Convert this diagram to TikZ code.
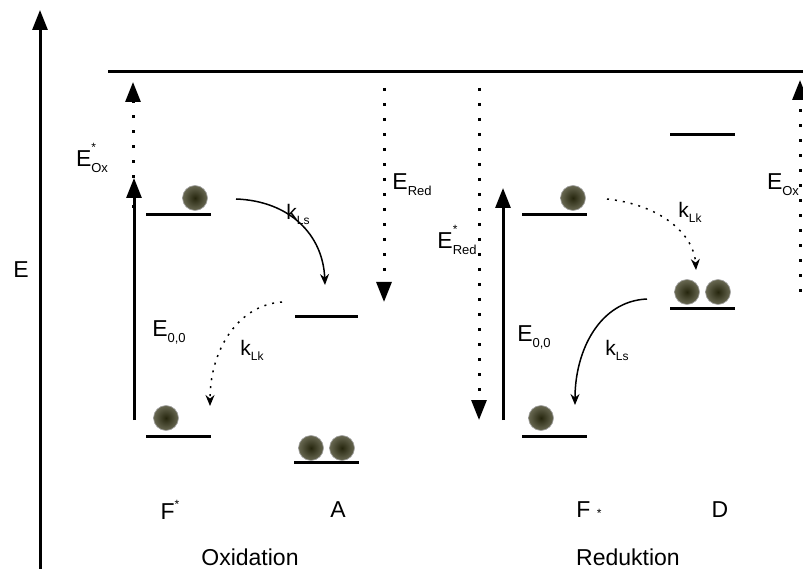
\documentclass[tikz,border=0pt]{standalone}
\usepackage{fontspec}
\setmainfont{Liberation Sans}
\usetikzlibrary{arrows.meta}

\definecolor{ballin}{RGB}{38,38,14}
\definecolor{ballout}{RGB}{104,104,82}

% label helpers: E with sub- and superscript
\newcommand{\Elbl}[2]{E\makebox[0pt][l]{\raisebox{1.2ex}{\fontsize{12}{12}\selectfont #1}}\raisebox{-0.5ex}{\fontsize{13}{13}\selectfont #2}}
\newcommand{\klbl}[1]{k\raisebox{-0.45ex}{\fontsize{12}{12}\selectfont #1}}

\tikzset{
  level/.style={line width=3pt},
  bigtip/.style={-{Triangle[length=20pt,width=15pt]}},
  solidarr/.style={bigtip, line width=3pt},
  dotarr/.style={bigtip, line width=3pt, dash pattern=on 3pt off 12pt},
  transfer/.style={line width=1.5pt, -{Stealth[length=11pt,width=9pt]}},
  dottransfer/.style={transfer, dash pattern=on 2pt off 6pt},
  txt/.style={font=\fontsize{23}{25}\selectfont, inner sep=0pt},
  ktxt/.style={font=\fontsize{21}{23}\selectfont, inner sep=0pt},
  ball/.style={inner color=ballin, outer color=ballout, draw=gray!70, line width=0.6pt}
}

\begin{document}
\begin{tikzpicture}[x=1pt,y=-1pt]
  \useasboundingbox (0,0) rectangle (803,569);

  % energy axis and common top level
  \coordinate (axisB) at (40,569);
  \coordinate (axisT) at (40,10);
  \draw [solidarr] (axisB) -- (axisT);
  \node[txt] (Elab) at (21,270) {E};
  \coordinate (topL) at (108,72);
  \coordinate (topR) at (803,72);
  \draw [level] (topL) -- (topR);

  % Oxidation: levels of F* and A
  \draw [level] (146,215) -- (211,215);
  \draw [level] (146,436) -- (211,436);
  \draw [level] (295,316) -- (358,316);
  \draw [level] (294,462) -- (359,462);

  % Reduktion: levels of F* and D
  \draw [level] (522,215) -- (587,215);
  \draw [level] (522,436) -- (587,436);
  \draw [level] (670,135) -- (735,135);
  \draw [level] (670,309) -- (735,309);

  % electrons
  \foreach \x/\y in {195/198, 166/418, 311/448, 342/448, 573/198, 541/418, 687/292, 718/292} {
    \shade [ball] (\x,\y) circle (12.5);
  }

  % Oxidation arrows
  \coordinate (eooB) at (134,420);
  \coordinate (eooT) at (134,178);
  \draw [solidarr] (eooB) -- (eooT);
  \node[txt] (eooLab) at (169,332) {\Elbl{}{0,0}};

  \coordinate (eoxsB) at (133,208);
  \coordinate (eoxsT) at (133,82);
  \draw [dotarr] (eoxsB) -- (eoxsT);
  \node[txt] (eoxsLab) at (92,158) {\Elbl{*}{Ox}};

  \coordinate (eredT) at (384,88);
  \coordinate (eredB) at (384,302);
  \draw [dotarr] (eredT) -- (eredB);
  \node[txt] (eredLab) at (412,185) {\Elbl{}{Red}};

  \coordinate (klsA) at (236,199);
  \coordinate (klsB) at (325,285);
  \draw [transfer] (klsA) .. controls (290,201) and (323,235) .. (klsB);
  \node[ktxt] (klsLab) at (298,214) {\klbl{Ls}};

  \coordinate (klkA) at (282,302);
  \coordinate (klkB) at (210,406);
  \draw [dottransfer] (klkA) .. controls (238,305) and (210,350) .. (klkB);
  \node[ktxt] (klkLab) at (252,350) {\klbl{Lk}};

  % Reduktion arrows
  \coordinate (eredsT) at (479,88);
  \coordinate (eredsB) at (479,420);
  \draw [dotarr] (eredsT) -- (eredsB);
  \node[txt] (eredsLab) at (457,240) {\Elbl{*}{Red}};

  \coordinate (erooB) at (503,420);
  \coordinate (erooT) at (503,188);
  \draw [solidarr] (erooB) -- (erooT);
  \node[txt] (erooLab) at (534,337) {\Elbl{}{0,0}};

  \coordinate (eoxB) at (800,292);
  \coordinate (eoxT) at (800,80);
  \draw [dotarr] (eoxB) -- (eoxT);
  \node[txt] (eoxLab) at (783,185) {\Elbl{}{Ox}};

  \coordinate (rklkA) at (607,199);
  \coordinate (rklkB) at (696,270);
  \draw [dottransfer] (rklkA) .. controls (662,205) and (694,235) .. (rklkB);
  \node[ktxt] (rklkLab) at (690,212) {\klbl{Lk}};

  \coordinate (rklsA) at (647,299);
  \coordinate (rklsB) at (575,405);
  \draw [transfer] (rklsA) .. controls (600,301) and (575,350) .. (rklsB);
  \node[ktxt] (rklsLab) at (617,350) {\klbl{Ls}};

  % species and reaction names
  \node[txt] (Fox) at (170,510) {F\raisebox{0.9ex}{\fontsize{12}{12}\selectfont *}};
  \node[txt] (Aox) at (338,510) {A};
  \node[txt] (Fred) at (589,510) {F {\fontsize{12}{12}\selectfont *}};
  \node[txt] (Dred) at (720,510) {D};
  \node[txt] (Oxi) at (250,557) {Oxidation};
  \node[txt] (Red) at (628,557) {Reduktion};
\end{tikzpicture}
\end{document}
